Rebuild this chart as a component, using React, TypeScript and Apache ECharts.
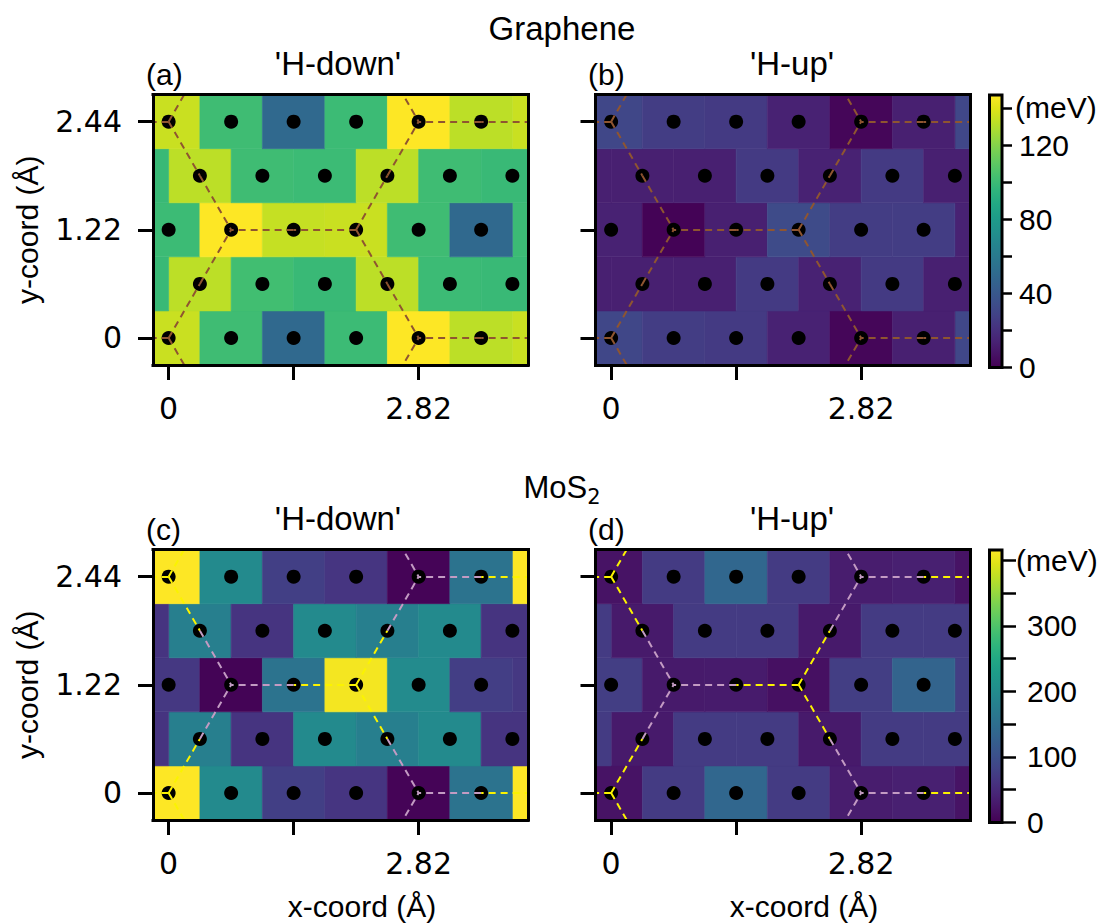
import React, { useEffect, useRef } from "react";
import * as echarts from "echarts";

// ---------- colour map (viridis) ----------
const VIRIDIS = [
  "#440154", "#471365", "#482475", "#463480", "#414487", "#3b528b", "#355f8d",
  "#2f6c8e", "#2a788e", "#25848e", "#21918c", "#1e9c89", "#22a884", "#2fb47c",
  "#44bf70", "#5ec962", "#7ad151", "#9bd93c", "#bddf26", "#dfe318", "#fde725",
];

// ---------- lattice ----------
const ROW_Y = [0, 0.61, 1.22, 1.83, 2.44];
const EVEN_X = [0, 0.705, 1.41, 2.115, 2.82, 3.525];
const ODD_X = [0.3525, 1.0575, 1.7625, 2.4675, 3.1725, 3.8775];
const CELL_W = 0.705;
const CELL_H = 0.61;
const PERIOD_X = 4.23;

const X_RANGE = [-0.1763, 4.0537];
const Y_RANGE = [-0.305, 2.745];
const X_TICKS = [0, 1.41, 2.82];
const X_TICK_LABELS = [0, 2.82];
const Y_TICKS = [0, 1.22, 2.44];

// ---------- energies (meV); rows y = 0, 0.61, 1.22, 1.83 (y = 2.44 repeats y = 0) ----------
const GRAPHENE_DOWN = [
  [135, 101, 50, 100, 147, 132],
  [132, 102, 99, 132, 100, 99],
  [100, 147, 134, 135, 101, 50],
  [132, 101, 100, 132, 101, 99],
];
const GRAPHENE_UP = [
  [31, 26, 25, 14, 2, 13],
  [13, 13, 25, 14, 25, 13],
  [14, 1, 13, 33, 26, 26],
  [13, 13, 25, 14, 25, 13],
];
const MOS2_DOWN = [
  [416, 196, 77, 64, 4, 158],
  [179, 62, 196, 179, 196, 62],
  [68, 3, 158, 410, 198, 76],
  [179, 62, 196, 179, 196, 62],
];
const MOS2_UP = [
  [21, 71, 137, 71, 33, 37],
  [29, 71, 71, 29, 71, 71],
  [75, 29, 30, 17, 75, 133],
  [29, 71, 71, 29, 71, 71],
];

// ---------- colour bars ----------
const TOP_MAX = 147;
const TOP_TICKS = [0, 20, 40, 60, 80, 100, 120, 140];
const TOP_LABELS = [0, 40, 80, 120];
const TOP_UNIT_AT = [140];
const BOT_MAX = 416;
const BOT_TICKS = [0, 50, 100, 150, 200, 250, 300, 350, 400];
const BOT_LABELS = [0, 100, 200, 300];
const BOT_UNIT_AT = [400];

// ---------- honeycomb overlay ----------
const SITES_A = [
  [0, 0], [0, 2.44], [2.115, 1.22], [4.23, 0], [4.23, 2.44], [2.115, -1.22], [2.115, 3.66],
];
const BOND_VECTORS = [[0.705, 1.22], [0.705, -1.22], [-1.41, 0]];

const C_CARBON = "#8f5530";
const C_SULFUR = "#fbf300";
const C_MOLY = "#c39bc3";

const PANELS = [
  { letter: "(a)", title: "'H-down'", values: GRAPHENE_DOWN, colA: C_CARBON, colB: C_CARBON, yLabels: true, xName: false },
  { letter: "(b)", title: "'H-up'", values: GRAPHENE_UP, colA: C_CARBON, colB: C_CARBON, yLabels: false, xName: false },
  { letter: "(c)", title: "'H-down'", values: MOS2_DOWN, colA: C_SULFUR, colB: C_MOLY, yLabels: true, xName: true },
  { letter: "(d)", title: "'H-up'", values: MOS2_UP, colA: C_SULFUR, colB: C_MOLY, yLabels: false, xName: true },
];

// ---------- layout (pixels) ----------
const LAYOUT = [
  { left: 153, top: 94.6, titleX: 338, letterX: 146, xNameX: 362 },
  { left: 595.5, top: 94.6, titleX: 792, letterX: 588, xNameX: 804 },
  { left: 153, top: 549.6, titleX: 338, letterX: 146, xNameX: 362 },
  { left: 595.5, top: 549.6, titleX: 792, letterX: 588, xNameX: 804 },
];
const PW = 375;
const PH = 270.4;
const CB = { left: 989.5, width: 12.5, tops: [95, 550], height: 272.5 };

const SANS = "'Liberation Sans', Arial, sans-serif";
const DEJA = "'DejaVu Sans', sans-serif";

function buildCells(values: number[][]) {
  const out: number[][] = [];
  ROW_Y.forEach((y, r) => {
    const vals = values[r % 4];
    const xs = r % 2 === 0 ? EVEN_X : ODD_X;
    xs.forEach((x, i) => {
      out.push([x, y, vals[i]]);
      out.push([x - PERIOD_X, y, vals[i]]);
      out.push([x + PERIOD_X, y, vals[i]]);
    });
  });
  return out;
}

function buildSites() {
  const out: number[][] = [];
  ROW_Y.forEach((y, r) => {
    const xs = r % 2 === 0 ? EVEN_X : ODD_X;
    xs.forEach((x) => out.push([x, y]));
  });
  return out;
}

function buildBonds(colA: string, colB: string) {
  const out: any[] = [];
  SITES_A.forEach(([ax, ay]) => {
    BOND_VECTORS.forEach(([bx, by]) => {
      const mid = [ax + bx / 2, ay + by / 2];
      const end = [ax + bx, ay + by];
      out.push({ coords: [[ax, ay], mid], lineStyle: { color: colA } });
      out.push({ coords: [mid, end], lineStyle: { color: colB } });
    });
  });
  return out;
}

function cellRender(params: any, api: any) {
  const x = api.value(0);
  const y = api.value(1);
  const a = api.coord([x - CELL_W / 2, y + CELL_H / 2]);
  const b = api.coord([x + CELL_W / 2, y - CELL_H / 2]);
  const cs = params.coordSys;
  const shape = echarts.graphic.clipRectByRect(
    { x: a[0], y: a[1], width: b[0] - a[0], height: b[1] - a[1] },
    { x: cs.x, y: cs.y, width: cs.width, height: cs.height }
  );
  if (!shape) return null;
  const color = api.visual("color");
  return { type: "rect", shape, style: { fill: color, stroke: color, lineWidth: 0.6 } };
}

function barRender(params: any, api: any) {
  const p0 = api.coord([api.value(0), api.value(3)]);
  const p1 = api.coord([api.value(1), api.value(2)]);
  const stops = VIRIDIS.map((c, i) => ({ offset: i / (VIRIDIS.length - 1), color: c }));
  return {
    type: "rect",
    shape: { x: p0[0], y: p0[1], width: p1[0] - p0[0], height: p1[1] - p0[1] },
    style: {
      fill: new echarts.graphic.LinearGradient(0, 1, 0, 0, stops),
      stroke: "#000",
      lineWidth: 3,
    },
  };
}

function buildOption() {
  const grid: any[] = [];
  const xAxis: any[] = [];
  const yAxis: any[] = [];
  const series: any[] = [];
  const graphic: any[] = [];
  const frameLine = { show: true, onZero: false, lineStyle: { color: "#000", width: 3, cap: "square" } };

  PANELS.forEach((p, i) => {
    const L = LAYOUT[i];
    grid.push({ left: L.left, top: L.top, width: PW, height: PH, outerBoundsMode: "none" });
    xAxis.push({
      type: "value", gridIndex: i, position: "bottom", min: X_RANGE[0], max: X_RANGE[1], z: 10,
      axisLine: frameLine,
      axisTick: { show: true, inside: false, length: 15, customValues: X_TICKS, lineStyle: { color: "#000", width: 3 } },
      axisLabel: { show: true, customValues: X_TICK_LABELS, margin: 28, fontFamily: DEJA, fontSize: 30, color: "#000", formatter: (v: number) => String(v) },
      splitLine: { show: false },
    });
    xAxis.push({
      type: "value", gridIndex: i, position: "top", min: X_RANGE[0], max: X_RANGE[1], z: 10,
      axisLine: frameLine, axisTick: { show: false }, axisLabel: { show: false }, splitLine: { show: false },
    });
    yAxis.push({
      type: "value", gridIndex: i, position: "left", min: Y_RANGE[0], max: Y_RANGE[1], z: 10,
      axisLine: frameLine,
      axisTick: { show: true, inside: false, length: 15, customValues: Y_TICKS, lineStyle: { color: "#000", width: 3 } },
      axisLabel: { show: p.yLabels, customValues: Y_TICKS, margin: 31, fontFamily: DEJA, fontSize: 30, color: "#000", formatter: (v: number) => String(v) },
      splitLine: { show: false },
    });
    yAxis.push({
      type: "value", gridIndex: i, position: "right", min: Y_RANGE[0], max: Y_RANGE[1], z: 10,
      axisLine: frameLine, axisTick: { show: false }, axisLabel: { show: false }, splitLine: { show: false },
    });

    series.push({
      type: "custom", xAxisIndex: 2 * i, yAxisIndex: 2 * i, z: 2, silent: true, clip: true,
      encode: { x: 0, y: 1 }, data: buildCells(p.values), renderItem: cellRender,
    });
    series.push({
      type: "scatter", xAxisIndex: 2 * i, yAxisIndex: 2 * i, z: 3, silent: true,
      symbol: "circle", symbolSize: 14, itemStyle: { color: "#000", opacity: 1 }, data: buildSites(),
    });
    series.push({
      type: "lines", coordinateSystem: "cartesian2d", xAxisIndex: 2 * i, yAxisIndex: 2 * i, z: 4,
      clip: true, silent: true, lineStyle: { width: 2, type: [7, 5], opacity: 1 },
      data: buildBonds(p.colA, p.colB),
    });

    graphic.push({
      type: "text", x: L.titleX, y: L.top - 31,
      style: { text: p.title, fontFamily: SANS, fontSize: 33, fill: "#000", align: "center", verticalAlign: "middle" },
    });
    graphic.push({
      type: "text", x: L.letterX, y: L.top - 20.5,
      style: { text: p.letter, fontFamily: SANS, fontSize: 30, fill: "#000", align: "left", verticalAlign: "middle" },
    });
    if (p.yLabels) {
      graphic.push({
        type: "text", x: 27, y: L.top + PH / 2, rotation: Math.PI / 2,
        style: { text: "y-coord (Å)", fontFamily: SANS, fontSize: 30, fill: "#000", align: "center", verticalAlign: "middle" },
      });
    }
    if (p.xName) {
      graphic.push({
        type: "text", x: L.xNameX, y: L.top + PH + 86,
        style: { text: "x-coord (Å)", fontFamily: SANS, fontSize: 30, fill: "#000", align: "center", verticalAlign: "middle" },
      });
    }
  });

  // colour bars
  const bars = [
    { max: TOP_MAX, ticks: TOP_TICKS, labels: TOP_LABELS, unit: TOP_UNIT_AT, tickLen: 10, margin: 17, unitMargin: 13 },
    { max: BOT_MAX, ticks: BOT_TICKS, labels: BOT_LABELS, unit: BOT_UNIT_AT, tickLen: 14, margin: 25, unitMargin: 14 },
  ];
  bars.forEach((b, k) => {
    const gi = 4 + k;
    grid.push({ left: CB.left, top: CB.tops[k], width: CB.width, height: CB.height, outerBoundsMode: "none" });
    xAxis.push({ type: "value", gridIndex: gi, min: 0, max: 1, show: false });
    yAxis.push({
      type: "value", gridIndex: gi, position: "right", min: 0, max: b.max, z: 10,
      axisLine: { show: false, onZero: false },
      axisTick: { show: true, inside: false, length: b.tickLen, customValues: b.ticks, lineStyle: { color: "#000", width: 2.5 } },
      axisLabel: { show: true, customValues: b.labels, margin: b.margin, fontFamily: SANS, fontSize: 30, color: "#000" },
      splitLine: { show: false },
    });
    yAxis.push({
      type: "value", gridIndex: gi, position: "left", offset: -CB.width, min: 0, max: b.max, z: 10,
      axisLine: { show: false, onZero: false }, axisTick: { show: false },
      axisLabel: { show: true, inside: true, customValues: b.unit, margin: b.unitMargin, fontFamily: SANS, fontSize: 30, color: "#000", formatter: () => "(meV)" },
      splitLine: { show: false },
    });
    series.push({
      type: "custom", xAxisIndex: 8 + k, yAxisIndex: 8 + 2 * k, z: 2, silent: true,
      encode: { x: [0, 1], y: [2, 3] }, data: [[0, 1, 0, b.max]], renderItem: barRender,
    });
  });

  graphic.push({
    type: "text", x: 562, y: 28.5,
    style: { text: "Graphene", fontFamily: SANS, fontSize: 33, fill: "#000", align: "center", verticalAlign: "middle" },
  });
  graphic.push({
    type: "text", x: 562, y: 487.5,
    style: {
      text: "{m|MoS}{s|2}", align: "center", verticalAlign: "middle", fill: "#000",
      rich: {
        m: { fontFamily: SANS, fontSize: 31, lineHeight: 40, fill: "#000" },
        s: { fontFamily: DEJA, fontSize: 21, lineHeight: 22, verticalAlign: "bottom", fill: "#000" },
      },
    },
  });

  return {
    animation: false,
    backgroundColor: "#ffffff",
    grid, xAxis, yAxis, series, graphic,
    visualMap: [
      { type: "continuous", show: false, min: 0, max: TOP_MAX, dimension: 2, seriesIndex: [0, 3], inRange: { color: VIRIDIS } },
      { type: "continuous", show: false, min: 0, max: BOT_MAX, dimension: 2, seriesIndex: [6, 9], inRange: { color: VIRIDIS } },
    ],
  };
}

export default function App() {
  const ref = useRef<HTMLDivElement>(null);
  useEffect(() => {
    document.body.style.margin = "0";
    if (!ref.current) return;
    const chart = echarts.init(ref.current, null, { renderer: "svg" });
    chart.setOption(buildOption() as any);
    return () => chart.dispose();
  }, []);
  return <div ref={ref} style={{ width: 1105, height: 923 }} />;
}
